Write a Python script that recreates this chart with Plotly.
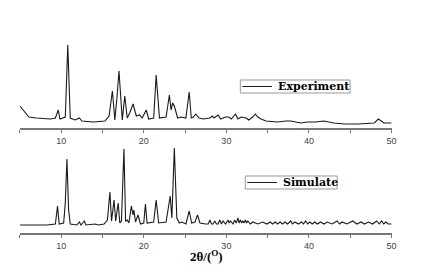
import plotly.graph_objects as go

# experimental pattern (2theta, intensity a.u.)
exp_x = [5.0, 5.5, 6.1, 7.0, 8.7, 9.3, 9.65, 9.85, 10.5, 10.8, 11.1, 11.7, 12.2, 12.5, 13.9,
         15.3, 15.8, 16.2, 16.5, 16.75, 17.0, 17.4, 17.7, 18.0, 18.3, 18.7, 19.1, 19.5, 19.8,
         20.3, 20.6, 21.2, 21.5, 21.9, 22.7, 23.1, 23.3, 23.5, 23.7, 24.1, 24.5, 25.1, 25.5,
         25.75, 26.0, 26.3, 26.7, 27.2, 28.0, 28.3, 28.5, 29.0, 29.3, 29.9, 30.3, 30.6, 31.1,
         31.4, 31.8, 32.4, 32.7, 33.2, 33.5, 33.8, 34.2, 34.8, 36.2, 37.2, 37.8, 39.0, 39.8,
         40.8, 41.8, 43.0, 44.3, 45.9, 47.9, 48.4, 48.8, 49.1, 50.0]
exp_y = [22, 17, 11, 10, 9, 10, 18, 9, 11, 83, 10, 8, 10, 7, 6,
         7, 12, 37, 8, 30, 57, 8, 32, 10, 15, 24, 12, 13, 10,
         18, 9, 10, 53, 10, 11, 33, 18, 25, 22, 10, 11, 10, 36,
         10, 11, 14, 10, 9, 10, 12, 10, 13, 9, 11, 11, 9, 14,
         9, 11, 10, 8, 11, 14, 11, 9, 7, 6, 7, 7, 5, 6,
         6, 7, 5, 4, 4, 5, 9, 7, 5, 5]

# simulated pattern
sim_x = [5.0, 8.3, 9.3, 9.56, 9.76, 10.3, 10.5, 10.7, 10.9, 11.1, 11.9, 12.2, 12.4, 12.8, 13.0,
         14.1, 14.5, 15.2, 15.6, 15.9, 16.1, 16.4, 16.6, 16.9, 17.1, 17.3, 17.6, 17.8, 18.0,
         18.2, 18.5, 18.7, 18.8, 19.0, 19.3, 19.6, 20.0, 20.2, 20.4, 21.2, 21.5, 21.8, 22.7,
         22.9, 23.2, 23.4, 23.7, 24.0, 24.3, 24.6, 25.1, 25.5, 25.8, 26.2, 26.5, 26.8, 27.2,
         27.5, 27.8, 28.0, 28.2, 28.4, 28.6, 28.8, 29.0, 29.2, 29.4, 29.6, 29.9, 30.2, 30.35,
         30.5, 30.8, 31.0, 31.2, 31.4, 31.55, 31.7, 31.85, 32.0, 32.15, 32.3, 32.45, 32.6,
         32.9, 33.2, 33.8, 34.4, 34.9, 35.3, 35.6, 35.9, 36.2, 36.5, 36.8, 37.1, 37.4, 37.8,
         38.0, 38.3, 38.7, 39.1, 39.35, 39.6, 39.85, 40.1, 40.4, 40.7, 41.0, 41.4, 41.8, 42.2,
         42.8, 43.4, 43.7, 44.0, 44.6, 45.3, 45.8, 46.3, 46.7, 47.2, 47.7, 48.2, 48.5, 48.8,
         49.05, 49.3, 49.6, 50.0]
sim_y = [8, 8, 9, 27, 9, 10, 30, 74, 23, 9, 8, 11, 8, 12, 8,
         9, 8, 9, 13, 41, 12, 33, 12, 30, 10, 12, 84, 12, 13,
         10, 27, 18, 23, 11, 18, 9, 10, 29, 10, 11, 33, 10, 11,
         23, 37, 15, 85, 15, 10, 11, 9, 22, 10, 11, 18, 10, 9,
         9, 9, 13, 9, 9, 12, 9, 9, 13, 9, 12, 9, 13, 10,
         12, 9, 13, 10, 15, 10, 13, 10, 12, 10, 13, 10, 12,
         9, 11, 9, 11, 9, 11, 9, 11, 9, 11, 9, 11, 9, 12,
         9, 11, 9, 11, 9, 12, 9, 11, 9, 11, 9, 11, 9, 11,
         9, 12, 9, 11, 9, 12, 9, 11, 9, 11, 9, 12, 9, 12,
         9, 11, 9, 9]

tick_vals = [10, 20, 30, 40, 50]
series_names = ["Experiment", "Simulate"]
x_title = "2θ/(<sup>O</sup>)"

W, H = 439, 279
fig = go.Figure()
fig.add_trace(go.Scatter(x=exp_x, y=exp_y, mode="lines", name=series_names[0],
                         line=dict(color="#1a1a1a", width=1.1), xaxis="x", yaxis="y"))
fig.add_trace(go.Scatter(x=sim_x, y=sim_y, mode="lines", name=series_names[1],
                         line=dict(color="#1a1a1a", width=1.1), xaxis="x2", yaxis="y2"))

xd = [12 / W, 388 / W]
axis_common = dict(range=[5, 50], domain=xd, tickvals=tick_vals, showgrid=False,
                   zeroline=False, showline=True, linecolor="#777", linewidth=1.5,
                   ticks="outside", ticklen=3, tickcolor="#777",
                   minor=dict(tickvals=[5, 15, 25, 35, 45], ticks="outside", ticklen=3,
                              tickcolor="#777"),
                   tickfont=dict(family="Liberation Sans", size=9, color="#444"))


def px(v):
    return v / W


def py(v):
    return 1 - v / H


# hand-drawn legend boxes (box, line sample, label) in pixel positions
legend_boxes = [(235, 346, 72, 85), (240, 333, 168, 181)]
shapes, annotations = [], []
for name, (x0, x1, y0, y1) in zip(series_names, legend_boxes):
    ym = (y0 + y1) / 2
    shapes.append(dict(type="rect", xref="paper", yref="paper", x0=px(x0), x1=px(x1),
                       y0=py(y1), y1=py(y0), line=dict(color="#999", width=1),
                       fillcolor="white"))
    shapes.append(dict(type="line", xref="paper", yref="paper", x0=px(x0 + 2),
                       x1=px(x0 + 32), y0=py(ym), y1=py(ym),
                       line=dict(color="#1a1a1a", width=1)))
    annotations.append(dict(xref="paper", yref="paper", x=px(x0 + 36), y=py(ym),
                            xanchor="left", yanchor="middle", showarrow=False,
                            text="<b>" + name + "</b>",
                            font=dict(family="DejaVu Serif", size=11, color="black")))

# x axis title
annotations.append(dict(xref="paper", yref="paper", x=px(201), y=py(248),
                        xanchor="center", yanchor="middle", showarrow=False,
                        text="<b>" + x_title + "</b>",
                        font=dict(family="Liberation Serif", size=13, color="black")))

fig.update_layout(
    width=W, height=H,
    margin=dict(l=0, r=0, t=0, b=0),
    paper_bgcolor="white", plot_bgcolor="white",
    showlegend=False,
    xaxis=dict(anchor="y", **axis_common),
    yaxis=dict(range=[0, 90], domain=[1 - 120 / H, 1 - 30 / H], visible=False),
    xaxis2=dict(anchor="y2", **axis_common),
    yaxis2=dict(range=[0, 90], domain=[1 - 225 / H, 1 - 135 / H], visible=False),
    shapes=shapes,
    annotations=annotations,
)

fig.write_html("out.html")
